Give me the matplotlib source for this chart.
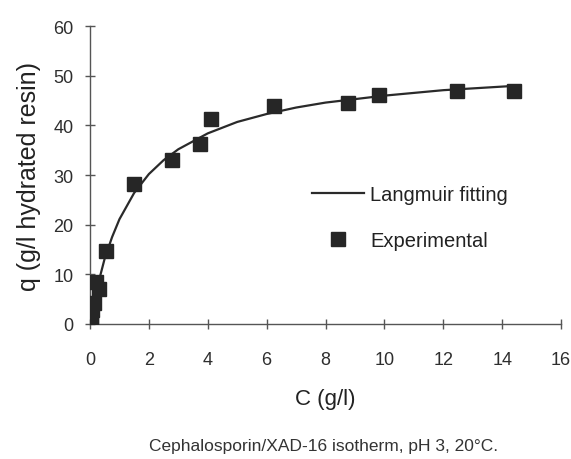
import matplotlib
matplotlib.use("Agg")
import matplotlib.pyplot as plt

plt.rcParams["font.family"] = ["Liberation Sans", "DejaVu Sans"]

# Experimental points
exp_c = [0.02, 0.05, 0.08, 0.12, 0.2, 0.3, 0.55, 1.5, 2.8, 3.75, 4.1, 6.25, 8.75, 9.8, 12.45, 14.4]
exp_q = [0.3, 1.5, 2.8, 4.3, 8.5, 7.0, 14.8, 28.2, 33.0, 36.3, 41.3, 44.0, 44.5, 46.2, 47.0, 47.0]

# Langmuir fitting curve
fit_c = [0.05, 0.25, 0.5, 0.75, 1.0, 1.5, 2.0, 2.5, 3.0, 4.0, 5.0, 6.0, 7.0, 8.0, 10.0, 12.0, 14.5]
fit_q = [1.7, 7.5, 13.2, 17.5, 21.1, 26.4, 30.2, 33.0, 35.2, 38.4, 40.7, 42.3, 43.6, 44.6, 46.0, 47.1, 48.0]

x_ticks = [0, 2, 4, 6, 8, 10, 12, 14, 16]
y_ticks = [0, 10, 20, 30, 40, 50, 60]

fig = plt.figure(figsize=(5.71, 4.60), dpi=100)
ax = fig.add_axes([0.1576, 0.2935, 0.825, 0.6475])

ax.plot(fit_c, fit_q, "-", color="#2a2a2a", linewidth=1.6, label="Langmuir fitting")
ax.plot(exp_c, exp_q, "s", color="#262626", markersize=10.5, linestyle="none",
        label="Experimental", zorder=3)

ax.set_xlim(0, 16)
ax.set_ylim(0, 60)
ax.set_xticks(x_ticks)
ax.set_yticks(y_ticks)

for side in ["top", "right"]:
    ax.spines[side].set_visible(False)
for side in ["left", "bottom"]:
    ax.spines[side].set_color("#555555")
    ax.spines[side].set_linewidth(1.0)

ax.tick_params(axis="both", direction="inout", length=7, width=1.0, colors="#555555",
               labelcolor="#2e2e2e", labelsize=13)
ax.tick_params(axis="x", pad=16)
ax.tick_params(axis="y", pad=8.5)

ax.set_xlabel("C (g/l)", fontsize=16, color="#222222", labelpad=14)
ax.set_ylabel("q (g/l hydrated resin)", fontsize=18, color="#222222", labelpad=9)

ax.legend(loc="upper left", bbox_to_anchor=(0.433, 0.527), frameon=False, fontsize=14.5,
          labelspacing=1.35, handlelength=2.6, handletextpad=0.3, labelcolor="#222222")

fig.text(0.566, 0.030, "Cephalosporin/XAD-16 isotherm, pH 3, 20°C.", ha="center",
         va="center", fontsize=12.5, color="#333333")

fig.savefig("out.png", dpi=100)
